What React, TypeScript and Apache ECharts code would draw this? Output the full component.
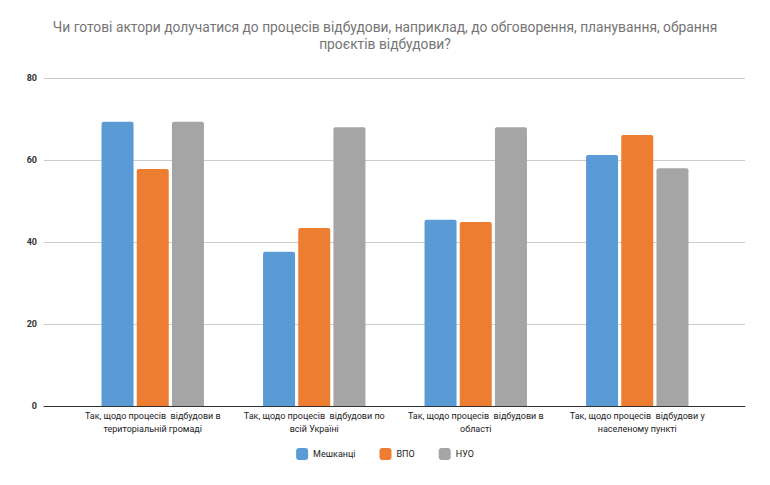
import React, { useEffect, useRef } from "react";
import * as echarts from "echarts";

const categories = [
  "Так, щодо процесів  відбудови в\nтериторіальній громаді",
  "Так, щодо процесів  відбудови по\nвсій Україні",
  "Так, щодо процесів  відбудови в\nобласті",
  "Так, щодо процесів  відбудови у\nнаселеному пункті",
];
const residents = [69.3, 37.6, 45.4, 61.2];
const idp = [57.8, 43.4, 44.9, 66.1];
const ngo = [69.3, 68.0, 68.0, 58.0];
const yTicks = { min: 0, max: 80, interval: 20 };

export default function App() {
  const ref = useRef<HTMLDivElement>(null);
  useEffect(() => {
    document.body.style.margin = "0";
    const chart = echarts.init(ref.current!, null, { renderer: "svg" });
    const font = "Roboto, Arial, sans-serif";
    const barCommon = {
      type: "bar" as const,
      xAxisIndex: 1,
      yAxisIndex: 1,
      barWidth: 32,
      barGap: "10%",
      itemStyle: { borderRadius: [2, 2, 0, 0] },
    };
    chart.setOption({
      animation: false,
      backgroundColor: "#ffffff",
      textStyle: { fontFamily: font },
      title: {
        text:
          "Чи готові актори долучатися до процесів відбудови, наприклад, до обговорення, планування, обрання\nпроєктів відбудови?",
        left: "center",
        top: 13,
        textStyle: {
          fontFamily: font,
          fontSize: 13.8,
          fontWeight: "normal",
          color: "#757575",
          lineHeight: 17,
        },
      },
      legend: {
        bottom: 20,
        left: "center",
        itemWidth: 12,
        itemHeight: 12,
        itemGap: 24,
        icon: "roundRect",
        textStyle: { fontSize: 9, color: "#222", fontFamily: font },
        data: ["Мешканці", "ВПО", "НУО"],
      },
      grid: [
        { left: 44, right: 25, top: 78, bottom: 79 },
        { left: 72, right: 52, top: 78, bottom: 79 },
      ],
      xAxis: [
        {
          type: "category",
          gridIndex: 0,
          data: categories,
          axisLine: { lineStyle: { color: "#333", width: 1 } },
          axisTick: { show: false },
          axisLabel: { show: false },
        },
        {
          type: "category",
          gridIndex: 1,
          data: categories,
          axisLine: { show: false },
          axisTick: { show: false },
          axisLabel: {
            fontSize: 9,
            color: "#222",
            lineHeight: 13,
            margin: 3,
            interval: 0,
          },
        },
      ],
      yAxis: [
        {
          type: "value",
          gridIndex: 0,
          ...yTicks,
          axisLine: { show: false },
          axisTick: { show: false },
          axisLabel: { fontSize: 9, fontWeight: "bold", color: "#333", margin: 7 },
          splitLine: { lineStyle: { color: "#cccccc" } },
        },
        {
          type: "value",
          gridIndex: 1,
          ...yTicks,
          show: false,
        },
      ],
      series: [
        { ...barCommon, name: "Мешканці", data: residents, itemStyle: { ...barCommon.itemStyle, color: "#5b9bd5" } },
        { ...barCommon, name: "ВПО", data: idp, itemStyle: { ...barCommon.itemStyle, color: "#ed7d31" } },
        { ...barCommon, name: "НУО", data: ngo, itemStyle: { ...barCommon.itemStyle, color: "#a5a5a5" } },
      ],
    });
    return () => chart.dispose();
  }, []);
  return <div ref={ref} style={{ width: 770, height: 485 }} />;
}
